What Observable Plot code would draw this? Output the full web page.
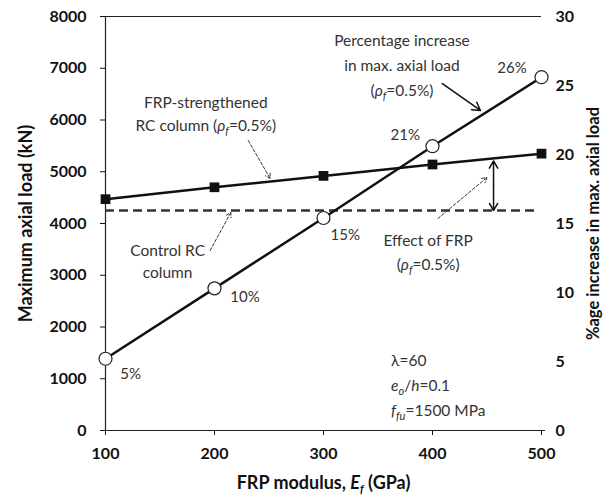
<!DOCTYPE html>
<html>
<head>
<meta charset="utf-8">
<script src="https://cdn.jsdelivr.net/npm/d3@7"></script>
<script src="https://cdn.jsdelivr.net/npm/@observablehq/plot@0.6"></script>
<style>
  html, body { margin: 0; padding: 0; background: #fff; }
  svg text { font-family: Lato, "Open Sans", sans-serif; }
</style>
</head>
<body>
<div id="chart"></div>
<script>
// ---- data ----
const modulus = [100, 200, 300, 400, 500];                 // FRP modulus Ef (GPa)
const strengthenedLoad = [4470, 4700, 4920, 5140, 5350];    // kN
const controlLoad = 4250;                                   // kN
const pctIncrease = [5.2, 10.3, 15.4, 20.6, 25.6];          // %
const pctLabels = ["5%", "10%", "15%", "21%", "26%"];
const xTicks = [100, 200, 300, 400, 500];
const leftTicks = [0, 1000, 2000, 3000, 4000, 5000, 6000, 7000, 8000];
const rightTicks = [0, 5, 10, 15, 20, 25, 30];

const yMax = 8000, pctMax = 30;
const pctToLoad = v => v * yMax / pctMax;

const rows = modulus.map((m, i) => ({
  m, load: strengthenedLoad[i], pct: pctIncrease[i], label: pctLabels[i]
}));

// annotations (data units)
const pctLabelOffsets = [[23, -305], [28, -177], [20, -339], [-25, 207], [-27, 168]];
const notes = [
  {x: 192, y: 6155, text: "FRP-strengthened\nRC column (<i>ρ</i><sub>f</sub>=0.5%)", lh: 23},
  {x: 157, y: 3300, text: "Control RC\ncolumn", lh: 22},
  {x: 372, y: 7092, text: "Percentage increase\nin max. axial load\n(<i>ρ</i><sub>f</sub>=0.5%)", lh: 25},
  {x: 396, y: 3478, text: "Effect of FRP\n(<i>ρ</i><sub>f</sub>=0.5%)", lh: 24}
];
const params = {x: 362, y: 925, text: "λ=60\n<i>e</i><sub>o</sub>/<i>h</i>=0.1\n<i>f</i><sub>fu</sub>=1500 MPa", lh: 25};
const dashedArrows = [
  {x1: 231, y1: 5604, x2: 251, y2: 4870},
  {x1: 196, y1: 3478, x2: 215, y2: 4213},
  {x1: 405, y1: 4097, x2: 450, y2: 4889}
];
const solidArrows = [
  {x1: 409, y1: 6705, x2: 444, y2: 6184},
  {x1: 456, y1: 4725, x2: 456, y2: 5210},
  {x1: 456, y1: 4725, x2: 456, y2: 4250}
];

const font = "Lato, 'Open Sans', sans-serif";

const chart = Plot.plot({
  width: 607,
  height: 503,
  marginLeft: 105,
  marginRight: 66,
  marginTop: 16,
  marginBottom: 73,
  style: {fontFamily: font, background: "#fff", color: "#111"},
  x: {domain: [100, 500]},
  y: {domain: [0, yMax]},
  marks: [
    Plot.ruleY([yMax], {stroke: "#222", strokeWidth: 1.2}),
    Plot.ruleY([0], {stroke: "#222", strokeWidth: 1.2, insetRight: -4, insetLeft: -4}),
    Plot.ruleX([100], {stroke: "#222", strokeWidth: 1.2}),
    Plot.axisX({ticks: xTicks, tickSize: 5, tickPadding: 12, fontSize: 16, fontWeight: "bold", label: null, tickFormat: d => String(d)}),
    Plot.axisY({ticks: leftTicks, tickSize: 5, tickPadding: 14, fontSize: 16, fontWeight: "bold", label: null, tickFormat: d => String(d)}),
    Plot.axisY({anchor: "right", ticks: rightTicks.map(pctToLoad), tickSize: 0, tickPadding: 14, fontSize: 16, fontWeight: "bold", label: null,
      tickFormat: d => String(Math.round(d * pctMax / yMax))}),
    // axis titles
    Plot.text(["Maximum axial load (kN)"], {frameAnchor: "left", textAnchor: "middle", dx: -79, rotate: -90, fontSize: 18, fontWeight: "bold"}),
    Plot.text(["%age increase in max. axial load"], {frameAnchor: "right", textAnchor: "middle", dx: 52, rotate: -90, fontSize: 16.5, fontWeight: "bold"}),
    Plot.text(["FRP modulus, <i>E</i><sub>f</sub> (GPa)"], {frameAnchor: "bottom", dy: 58, fontSize: 18, fontWeight: "bold"}),
    // control
    Plot.ruleY([controlLoad], {stroke: "#333", strokeWidth: 2.5, strokeDasharray: "9,5", insetRight: 6}),
    // strengthened
    Plot.line(rows, {x: "m", y: "load", stroke: "#111", strokeWidth: 2.5}),
    Plot.dot(rows, {x: "m", y: "load", symbol: "square", fill: "#111", r: 5.5}),
    // percentage increase
    Plot.line(rows, {x: "m", y: d => pctToLoad(d.pct), stroke: "#111", strokeWidth: 2.5}),
    Plot.dot(rows, {x: "m", y: d => pctToLoad(d.pct), fill: "white", stroke: "#222", strokeWidth: 1.2, r: 6.5}),
    Plot.text(rows, {x: (d, i) => d.m + pctLabelOffsets[i][0], y: (d, i) => pctToLoad(d.pct) + pctLabelOffsets[i][1], text: "label", fontSize: 15, fill: "#333"}),
    // arrows
    Plot.arrow(dashedArrows, {x1: "x1", y1: "y1", x2: "x2", y2: "y2", stroke: "#333", strokeWidth: 1, strokeDasharray: "3,2", headLength: 8}),
    Plot.arrow(solidArrows, {x1: "x1", y1: "y1", x2: "x2", y2: "y2", stroke: "#111", strokeWidth: 1.5, headLength: 9}),
    // notes
    ...notes.map(n => Plot.text([n], {x: "x", y: "y", text: "text", fontSize: 15.5, fill: "#333", lineHeight: n.lh / 15.5})),
    Plot.text([params], {x: "x", y: "y", text: "text", fontSize: 15.5, fill: "#333", textAnchor: "start", lineHeight: params.lh / 15.5})
  ]
});

// convert light markup into tspans
function richify(str) {
  return str
    .replace(/<i>(.*?)<\/i>/g, '<tspan font-style="italic">$1</tspan>')
    .replace(/<sub>(.*?)<\/sub>([^<]*)/g, '<tspan dy="4" font-size="11" font-style="italic">$1</tspan><tspan dy="-4">$2</tspan>');
}
chart.querySelectorAll("text, tspan").forEach(el => {
  if (el.children.length === 0 && /<(i|sub)>/.test(el.textContent)) {
    el.innerHTML = richify(el.textContent);
  }
});

document.getElementById("chart").appendChild(chart);
</script>
</body>
</html>
